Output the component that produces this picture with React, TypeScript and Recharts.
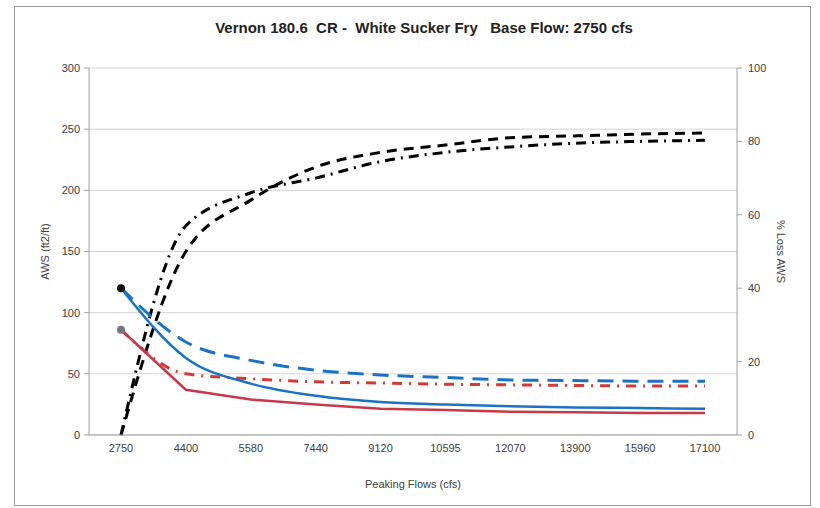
import React from 'react';
import { LineChart, Line, XAxis, YAxis, CartesianGrid } from 'recharts';

// peaking flow categories (cfs)
const flows = ['2750', '4400', '5580', '7440', '9120', '10595', '12070', '13900', '15960', '17100'];

// AWS (ft2/ft), left axis
const awsBlue = [120, 63, 42, 32, 27, 25, 23.5, 22.5, 22, 21.5];
const awsRed = [86, 37, 29, 25, 21.5, 20.5, 19, 18.5, 18, 18];
const awsBlueDash = [120, 76, 61, 53, 49, 47, 45, 44.5, 44, 44];
const awsRedDashDot = [86, 50, 46, 43.5, 42.5, 41.5, 41, 40.5, 40, 40];

// % Loss AWS, right axis
const lossDash = [0, 50, 64, 73, 77, 79, 81, 81.5, 82, 82.3];
const lossDashDot = [0, 57, 66, 70, 74.5, 77, 78.5, 79.5, 80, 80.3];

const leftTicks = [0, 50, 100, 150, 200, 250, 300];
const rightTicks = [0, 20, 40, 60, 80, 100];

const data = flows.map((f, i) => ({
  flow: f,
  blue: awsBlue[i],
  red: awsRed[i],
  blueDash: awsBlueDash[i],
  redDashDot: awsRedDashDot[i],
  lossDash: lossDash[i],
  lossDashDot: lossDashDot[i],
}));

const font = '"Liberation Sans", Arial, sans-serif';
const tickStyle = { fill: '#404040', fontSize: 11, fontFamily: font };

const firstDot = (color: string) => (props: any) =>
  props.index === 0 ? (
    <circle key={`d-${props.index}`} cx={props.cx} cy={props.cy} r={4} fill={color} />
  ) : (
    <g key={`d-${props.index}`} />
  );

const App: React.FC = () => {
  return (
    <div style={{ position: 'absolute', left: 0, top: 0, width: 820, height: 508, background: '#fff' }}>
      <div
        style={{
          position: 'absolute',
          left: 14,
          top: 6,
          width: 797,
          height: 500,
          border: '1px solid #999',
          boxSizing: 'border-box',
        }}
      />
      <div
        style={{
          position: 'absolute',
          left: 0,
          top: 19,
          width: 848,
          textAlign: 'center',
          fontFamily: font,
          fontWeight: 'bold',
          fontSize: 15,
          color: '#222',
          whiteSpace: 'pre',
        }}
      >
        {'Vernon 180.6  CR -  White Sucker Fry   Base Flow: 2750 cfs'}
      </div>
      <div style={{ position: 'absolute', left: 0, top: 0 }}>
        <LineChart width={820} height={508} data={data} margin={{ top: 68, right: 33, bottom: 20, left: 30 }}>
          <CartesianGrid yAxisId="left" vertical={false} stroke="#d4d4d4" />
          <XAxis
            dataKey="flow"
            height={53}
            padding={{ left: 32, right: 32 }}
            tickLine={false}
            tickSize={0}
            tickMargin={9}
            stroke="#a0a0a0"
            tick={tickStyle}
            label={{ value: 'Peaking Flows (cfs)', position: 'insideBottom', offset: 0, style: { fill: '#404040', fontSize: 11, fontFamily: font } }}
          />
          <YAxis
            yAxisId="left"
            width={59}
            domain={[0, 300]}
            ticks={leftTicks}
            tickSize={5}
            tickMargin={4}
            stroke="#a0a0a0"
            tick={tickStyle}
            label={{
              value: 'AWS (ft2/ft)',
              angle: -90,
              position: 'insideLeft',
              offset: 15,
              style: { textAnchor: 'middle', fill: '#404040', fontSize: 11, fontFamily: font },
            }}
          />
          <YAxis
            yAxisId="right"
            orientation="right"
            width={50}
            domain={[0, 100]}
            ticks={rightTicks}
            tickSize={5}
            tickMargin={6}
            stroke="#a0a0a0"
            tick={tickStyle}
            label={{
              value: '% Loss AWS',
              angle: 90,
              position: 'insideRight',
              offset: 6,
              style: { textAnchor: 'middle', fill: '#404040', fontSize: 11, fontFamily: font },
            }}
          />
          <Line yAxisId="right" type="monotone" dataKey="lossDash" stroke="#000" strokeWidth={3} strokeDasharray="10 7" dot={false} isAnimationActive={false} />
          <Line yAxisId="right" type="monotone" dataKey="lossDashDot" stroke="#000" strokeWidth={3} strokeDasharray="10 6 2 6" dot={false} isAnimationActive={false} />
          <Line yAxisId="left" type="monotone" dataKey="redDashDot" stroke="#d23a34" strokeWidth={3} strokeDasharray="10 7 2 7" dot={false} isAnimationActive={false} />
          <Line yAxisId="left" type="monotone" dataKey="blueDash" stroke="#1a72c4" strokeWidth={3} strokeDasharray="16 9" dot={false} isAnimationActive={false} />
          <Line yAxisId="left" type="linear" dataKey="red" stroke="#c8384a" strokeWidth={2.5} dot={firstDot('#777')} isAnimationActive={false} />
          <Line yAxisId="left" type="monotone" dataKey="blue" stroke="#1a72c4" strokeWidth={2.5} dot={firstDot('#111')} isAnimationActive={false} />
        </LineChart>
      </div>
    </div>
  );
};

export default App;
